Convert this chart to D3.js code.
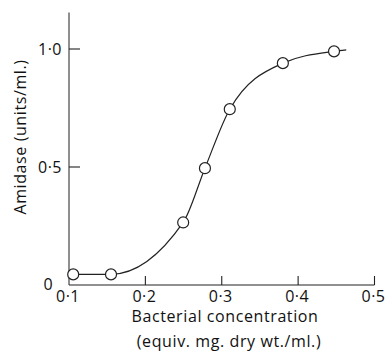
<!DOCTYPE html>
<html>
<head>
<meta charset="utf-8">
<script src="https://cdn.jsdelivr.net/npm/d3@7"></script>
<style>
  html, body { margin: 0; padding: 0; background: #fff; }
  svg { display: block; }
  text { font-family: "Open Sans", Lato, sans-serif; fill: #111; }
</style>
</head>
<body>
<svg id="chart" width="386" height="355"></svg>
<script>
// Amidase activity against bacterial concentration
const concentration = [0.1055, 0.155, 0.2495, 0.278, 0.3105, 0.380, 0.447];
const amidase       = [0.045, 0.045, 0.265, 0.495, 0.745, 0.94, 0.99];

// fitted curve drawn through the points, running a little past the last one
const curveX = [0.1055, 0.155, 0.2495, 0.278, 0.3105, 0.380, 0.447, 0.463];
const curveY = [0.045, 0.045, 0.265, 0.495, 0.745, 0.94, 0.99, 0.996];

const xTicks = [0.1, 0.2, 0.3, 0.4, 0.5];
const yTicks = [0.5, 1.0];
const xTitle = "Bacterial concentration";
const xSubTitle = "(equiv. mg. dry wt./ml.)";
const yTitle = "Amidase (units/ml.)";

const svg = d3.select("#chart");
const x = d3.scaleLinear().domain([0.1, 0.5]).range([69, 374.5]);
const y = d3.scaleLinear().domain([0, 1]).range([285, 49]);
const fmt = d => d3.format(".1f")(d).replace(".", "\u00b7");

// axes lines
svg.append("line")
  .attr("x1", x(0.1)).attr("x2", x(0.5))
  .attr("y1", y(0)).attr("y2", y(0))
  .attr("stroke", "#222").attr("stroke-width", 1.2);
svg.append("line")
  .attr("x1", x(0.1)).attr("x2", x(0.1))
  .attr("y1", y(0)).attr("y2", y(1.155))
  .attr("stroke", "#333").attr("stroke-width", 1.1);

// x ticks (pointing up into the plot) and labels
svg.selectAll(".xt").data(xTicks.filter(d => d > 0.1)).join("line")
  .attr("x1", d => x(d)).attr("x2", d => x(d))
  .attr("y1", y(0)).attr("y2", y(0) - 9)
  .attr("stroke", "#222").attr("stroke-width", 1.1);
svg.selectAll(".xl").data(xTicks).join("text")
  .attr("x", d => x(d) - 1).attr("y", 302)
  .attr("text-anchor", "middle").attr("font-size", 16)
  .attr("letter-spacing", 0.5)
  .text(fmt);

// y ticks and labels
svg.selectAll(".yt").data(yTicks).join("line")
  .attr("x1", x(0.1)).attr("x2", x(0.1) + 11)
  .attr("y1", d => y(d)).attr("y2", d => y(d))
  .attr("stroke", "#222").attr("stroke-width", 1.1);
svg.selectAll(".yl").data(yTicks).join("text")
  .attr("x", 62).attr("y", d => y(d) + 6)
  .attr("text-anchor", "end").attr("font-size", 16)
  .attr("letter-spacing", 0.5)
  .text(fmt);
svg.append("text")
  .attr("x", 48).attr("y", 290)
  .attr("text-anchor", "middle").attr("font-size", 16)
  .text("0");

// axis titles
svg.append("text")
  .attr("x", 225).attr("y", 322)
  .attr("text-anchor", "middle").attr("font-size", 16)
  .attr("letter-spacing", 0.6)
  .text(xTitle);
svg.append("text")
  .attr("x", 229).attr("y", 347)
  .attr("text-anchor", "middle").attr("font-size", 16)
  .attr("letter-spacing", 0.6)
  .text(xSubTitle);
svg.append("text")
  .attr("transform", "translate(26,137) rotate(-90)")
  .attr("text-anchor", "middle").attr("font-size", 16)
  .attr("letter-spacing", 0.6)
  .attr("fill", "#444")
  .text(yTitle);

// curve
const line = d3.line()
  .x(d => x(d[0])).y(d => y(d[1]))
  .curve(d3.curveMonotoneX);
svg.append("path")
  .datum(d3.zip(curveX, curveY))
  .attr("d", line)
  .attr("fill", "none")
  .attr("stroke", "#222").attr("stroke-width", 1.2);

// data points
svg.selectAll(".pt").data(d3.zip(concentration, amidase)).join("circle")
  .attr("cx", d => x(d[0])).attr("cy", d => y(d[1]))
  .attr("r", 5.5)
  .attr("fill", "#fff").attr("stroke", "#222").attr("stroke-width", 1.2);
</script>
</body>
</html>
